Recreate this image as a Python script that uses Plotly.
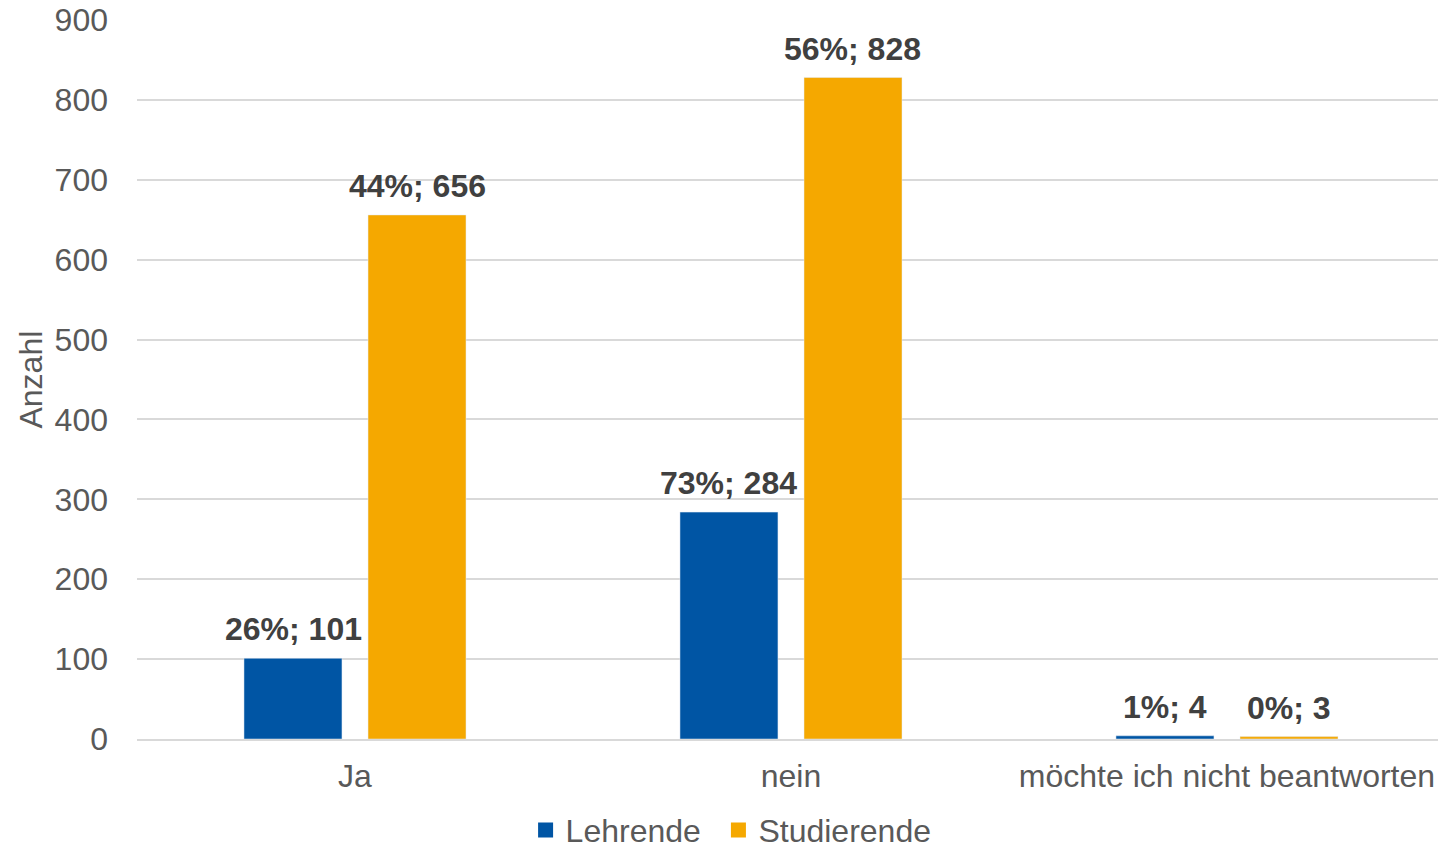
import plotly.graph_objects as go

categories = ["Ja", "nein", "möchte ich nicht beantworten"]
lehrende = [101, 284, 4]
studierende = [656, 828, 3]
lehrende_pct = ["26%", "73%", "1%"]
studierende_pct = ["44%", "56%", "0%"]
y_ticks = [0, 100, 200, 300, 400, 500, 600, 700, 800, 900]
y_title = "Anzahl"

BLUE = "#0055A4"
ORANGE = "#F5A800"
FONT = "Liberation Sans, Arial, sans-serif"
FS = 32

fig = go.Figure()
fig.add_trace(go.Bar(name="Lehrende", x=categories, y=lehrende, marker_color=BLUE,
                     showlegend=False))
fig.add_trace(go.Bar(name="Studierende", x=categories, y=studierende, marker_color=ORANGE,
                     showlegend=False))
# legend entries with larger square symbols, one legend box each
for name, col, leg in (("Lehrende", BLUE, "legend"), ("Studierende", ORANGE, "legend2")):
    fig.add_trace(go.Scatter(name=name, x=[None], y=[None], mode="markers",
                             marker=dict(symbol="square", size=15, color=col),
                             showlegend=True, legend=leg))

annotations = []
for cat, v, p in zip(categories, lehrende, lehrende_pct):
    annotations.append(dict(x=cat, y=v, xref="x", yref="y", text=f"<b>{p}; {v}</b>",
                            showarrow=False, xshift=-62, yanchor="bottom", yshift=9,
                            font=dict(family=FONT, size=FS, color="#404040")))
for cat, v, p in zip(categories, studierende, studierende_pct):
    annotations.append(dict(x=cat, y=v, xref="x", yref="y", text=f"<b>{p}; {v}</b>",
                            showarrow=False, xshift=62, yanchor="bottom", yshift=9,
                            font=dict(family=FONT, size=FS, color="#404040")))
# y-axis title
annotations.append(dict(x=-0.0822, y=0.5, xref="paper", yref="paper", text=y_title,
                        textangle=-90, showarrow=False, xanchor="center", yanchor="middle",
                        font=dict(family=FONT, size=FS, color="#595959")))

legend_common = dict(orientation="h", xref="container", yref="paper",
                     xanchor="left", y=-0.165, yanchor="bottom",
                     font=dict(size=FS, color="#595959"), itemwidth=30,
                     bgcolor="rgba(0,0,0,0)")

fig.update_layout(
    width=1438, height=851,
    margin=dict(l=137, r=0, t=20, b=112, autoexpand=False),
    paper_bgcolor="white", plot_bgcolor="white",
    barmode="group", bargap=0.431, bargroupgap=0.21,
    font=dict(family=FONT, size=FS, color="#595959"),
    annotations=annotations,
    showlegend=True,
    legend=dict(x=0.3655, **legend_common),
    legend2=dict(x=0.4996, **legend_common),
    xaxis=dict(range=[-0.5, 2.484], showgrid=False, showline=True,
               linecolor="#d9d9d9", linewidth=2, ticks="", automargin=False,
               ticklabelstandoff=8,
               tickfont=dict(size=FS, color="#595959")),
    yaxis=dict(range=[0, 900], tickvals=y_ticks, showgrid=True,
               gridcolor="#d9d9d9", gridwidth=1.5, zeroline=False,
               showline=False, ticks="", ticklabelstandoff=28, automargin=False,
               tickfont=dict(size=FS, color="#595959")),
)

fig.write_html("out.html", config={"displayModeBar": False},
               post_script="document.body.style.margin='0';document.body.style.overflow='hidden';")
